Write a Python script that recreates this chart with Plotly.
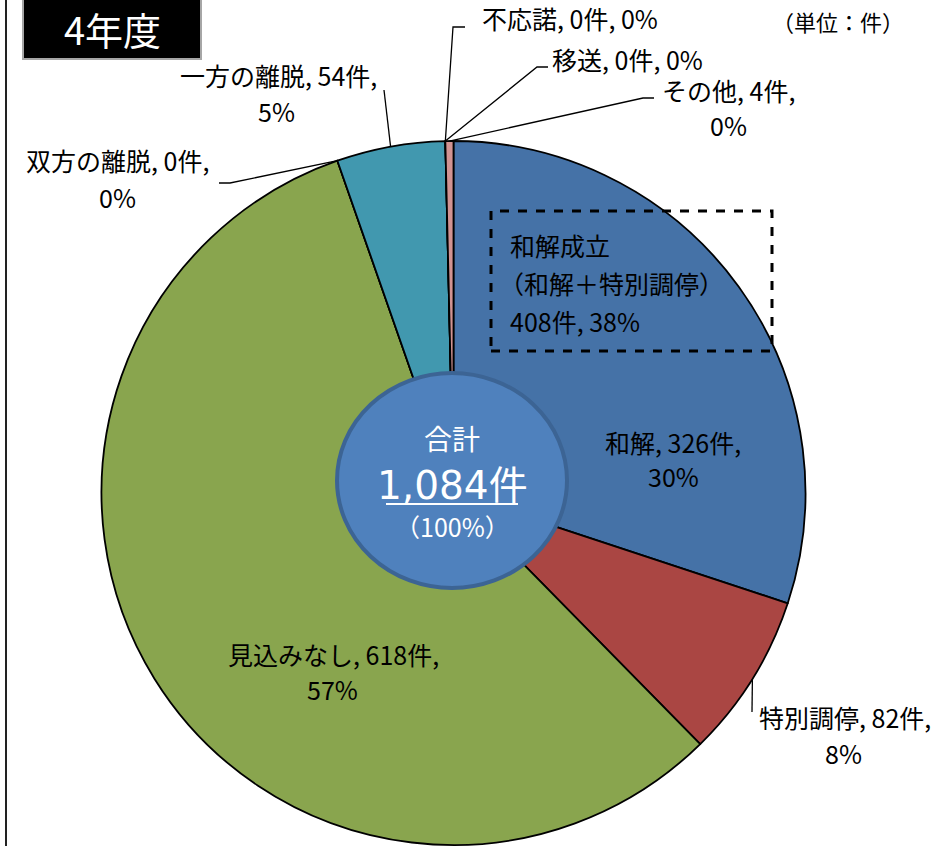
import math
import plotly.graph_objects as go

# ---------------- data ----------------
categories = ["和解", "特別調停", "見込みなし", "双方の離脱", "一方の離脱", "不応諾", "移送", "その他"]
counts = [326, 82, 618, 0, 54, 0, 0, 4]
colors = ["#4572A7", "#AA4643", "#89A54E", "#71588F", "#4198AF", "#DB843D", "#93A9CF", "#D19392"]
title_text = "4年度"
unit_text = "（単位：件）"
settle_title = "和解成立"
settle_sub = "（和解＋特別調停）"
settle_parts = ["和解", "特別調停"]
total_title = "合計"

# ---------------- layout constants ----------------
W, H = 949, 846
CX, CY, R = 453.5, 493.0, 352.0
FONT = "Noto Sans CJK JP, Noto Sans, sans-serif"
LBL = 25


def px(x):
    return x / W


def py(y):
    return 1 - y / H


total = sum(counts)
pct = [round(c / total * 100) for c in counts]


def edge_point(idx, frac=0.5):
    before = sum(counts[:idx])
    ang = (before + counts[idx] * frac) / total * 2 * math.pi
    return CX + R * math.sin(ang), CY - R * math.cos(ang)


fig = go.Figure()
fig.add_trace(go.Pie(
    labels=categories, values=counts, sort=False, direction="clockwise",
    rotation=0, textinfo="none", hoverinfo="label+value+percent",
    marker=dict(colors=colors, line=dict(color="#000000", width=1.8)),
    domain=dict(x=[px(CX - R), px(CX + R)], y=[py(CY + R), py(CY - R)]),
    showlegend=False,
))

ann = []
shapes = []


def text(x, y, s, size=LBL, color="#000000", xanchor="center", fam=FONT):
    ann.append(dict(x=px(x), y=py(y), xref="paper", yref="paper", text=s,
                    showarrow=False, xanchor=xanchor, yanchor="middle",
                    font=dict(family=fam, size=size, color=color)))


def line(pts, width=1.3, color="#000000"):
    path = "M " + " L ".join(f"{px(a)},{py(b)}" for a, b in pts)
    shapes.append(dict(type="path", path=path, xref="paper", yref="paper",
                       line=dict(color=color, width=width)))


# label placement: (line1 center, line2 center or None, leader path after edge)
place = {
    "和解": ((673, 442), (673, 476), None),
    "特別調停": ((845, 717), (843, 753), [(752, 712)]),
    "見込みなし": ((333, 654), (332, 689), None),
    "双方の離脱": ((117, 160), (117, 197), [(230, 183), (219, 183)]),
    "一方の離脱": ((278, 75), (276, 111), [(384, 90)]),
    "不応諾": ((570, 18), None, [(453, 27), (465, 27)]),
    "移送": ((627, 59), None, [(537, 67), (548, 67)]),
    "その他": ((728, 90), (728, 125), [(643, 98), (654, 98)]),
}

for i, cat in enumerate(categories):
    (x1, y1), l2, lead = place[cat]
    if l2 is None:
        text(x1, y1, f"{cat}, {counts[i]}件, {pct[i]}%")
    else:
        text(x1, y1, f"{cat}, {counts[i]}件,")
        text(l2[0], l2[1], f"{pct[i]}%")
    if lead:
        ex, ey = edge_point(i, 0.5 if counts[i] else 0.0)
        line([(ex, ey)] + lead)

# settlement box (和解 + 特別調停)
settle_n = sum(counts[categories.index(p)] for p in settle_parts)
settle_p = round(settle_n / total * 100)
shapes.append(dict(type="rect", xref="paper", yref="paper",
                   x0=px(491), x1=px(772), y0=py(351), y1=py(211),
                   line=dict(color="#000000", width=3, dash="dash")))
text(508, 245, settle_title, xanchor="left")
text(497, 283, settle_sub, xanchor="left")
text(508, 321, f"{settle_n}件, {settle_p}%", xanchor="left")

# centre circle
shapes.append(dict(type="circle", xref="paper", yref="paper",
                   x0=px(337), x1=px(567), y0=py(588), y1=py(373),
                   fillcolor="#4F81BD", line=dict(color="#3C6494", width=4)))
text(452, 438, total_title, size=28, color="#FFFFFF")
text(452, 485, f"{total:,}件", size=39, color="#FFFFFF",
     fam="DejaVu Sans, Noto Sans CJK JP, sans-serif")
line([(386, 504), (518, 504)], width=2, color="#FFFFFF")
text(452, 526, "（100%）", size=25, color="#FFFFFF")

# title box
shapes.append(dict(type="rect", xref="paper", yref="paper",
                   x0=px(23), x1=px(201), y0=py(59), y1=py(-3),
                   fillcolor="#000000", line=dict(color="#A6A6A6", width=2)))
text(112, 28, title_text, size=38, color="#FFFFFF")

# unit text
text(838, 21, unit_text, size=22)

# left frame line
shapes.append(dict(type="line", xref="paper", yref="paper",
                   x0=px(6), x1=px(6), y0=0, y1=1,
                   line=dict(color="#222222", width=2)))

fig.update_layout(
    width=W, height=H, autosize=False,
    margin=dict(l=0, r=0, t=0, b=0),
    paper_bgcolor="#FFFFFF", plot_bgcolor="#FFFFFF",
    annotations=ann, shapes=shapes,
    font=dict(family=FONT),
)
fig.write_html("out.html")
